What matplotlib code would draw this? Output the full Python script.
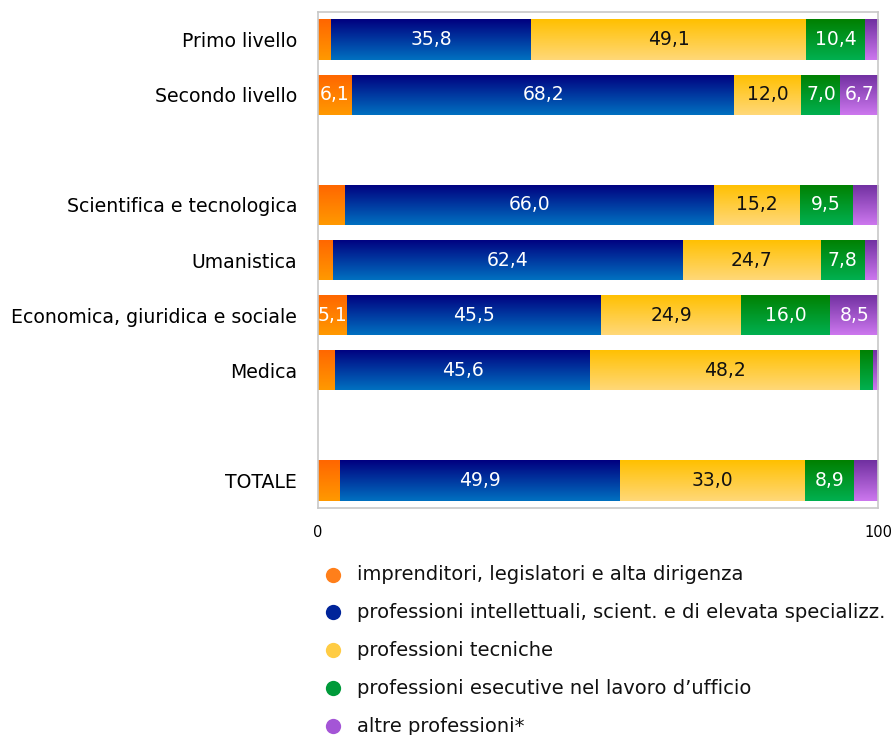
import matplotlib
matplotlib.use("Agg")
import matplotlib.pyplot as plt
import numpy as np
from matplotlib.colors import LinearSegmentedColormap
from matplotlib.lines import Line2D

categories = ["Primo livello", "Secondo livello", "",
              "Scientifica e tecnologica", "Umanistica",
              "Economica, giuridica e sociale", "Medica", "", "TOTALE"]
imprenditori = [2.3, 6.1, None, 4.8, 2.7, 5.1, 3.0, None, 4.0]
intellettuali = [35.8, 68.2, None, 66.0, 62.4, 45.5, 45.6, None, 49.9]
tecniche = [49.1, 12.0, None, 15.2, 24.7, 24.9, 48.2, None, 33.0]
esecutive = [10.4, 7.0, None, 9.5, 7.8, 16.0, 2.3, None, 8.9]
altre = [2.4, 6.7, None, 4.5, 2.4, 8.5, 0.9, None, 4.2]

series_names = ["imprenditori, legislatori e alta dirigenza",
                "professioni intellettuali, scient. e di elevata specializz.",
                "professioni tecniche",
                "professioni esecutive nel lavoro d\u2019ufficio",
                "altre professioni*"]
series = [imprenditori, intellettuali, tecniche, esecutive, altre]
grad_top = ["#FF6600", "#000080", "#FFC000", "#008000", "#7030A0"]
grad_bot = ["#FF9900", "#0070C0", "#FFD878", "#00B050", "#CC77EE"]
legend_col = ["#FF7F1A", "#00249A", "#FFCC44", "#009A3A", "#A455D6"]
text_col = ["white", "white", "#111111", "white", "white"]
xticks = [0, 100]
xticklabels = ["0", "100"]

plt.rcParams['font.family'] = ['DejaVu Sans']
fig = plt.figure(figsize=(8.93, 7.35), dpi=100)
ax = fig.add_axes([318/893, 1-508/735, 560/893, 496/735])

h = 0.73
grad = np.linspace(0, 1, 64).reshape(-1, 1)
for si, vals in enumerate(series):
    cmap = LinearSegmentedColormap.from_list("g%d" % si, [grad_top[si], grad_bot[si]])
    for yi, v in enumerate(vals):
        if v is None:
            continue
        left = sum(series[k][yi] for k in range(si))
        bars = ax.barh(yi, v, left=left, height=h, color=grad_bot[si], edgecolor='none', zorder=2)
        patch = bars[0]
        im = ax.imshow(grad, extent=(left, left + v, yi + h/2, yi - h/2), cmap=cmap,
                       aspect='auto', origin='upper', zorder=3, interpolation='bilinear')
        im.set_clip_path(patch)
        if v >= 5:
            ax.text(left + v/2, yi, ("%.1f" % v).replace(".", ","), ha='center', va='center',
                    color=text_col[si], fontsize=13.5, zorder=5)

ax.set_xlim(0, 100)
ax.set_ylim(8.5, -0.5)
ax.set_yticks(range(len(categories)))
ax.set_yticklabels(categories, fontsize=13.6)
ax.set_xticks(xticks)
ax.set_xticklabels(xticklabels, fontsize=10.5)
ax.tick_params(length=0)
ax.tick_params(axis='y', pad=15)
ax.tick_params(axis='x', pad=12)
for s in ax.spines.values():
    s.set_color('#C8C8C8')
    s.set_linewidth(1.2)
    s.set_zorder(6)

leg_y = [575, 612, 650, 688, 726]
for i, name in enumerate(series_names):
    yf = 1 - leg_y[i]/735
    fig.add_artist(Line2D([333/893], [yf], marker='o', markersize=11, color=legend_col[i],
                          markeredgewidth=0, transform=fig.transFigure))
    fig.text(357/893, yf, name, fontsize=14, va='center', ha='left', color='#111111')

fig.savefig("out.png", dpi=100)
